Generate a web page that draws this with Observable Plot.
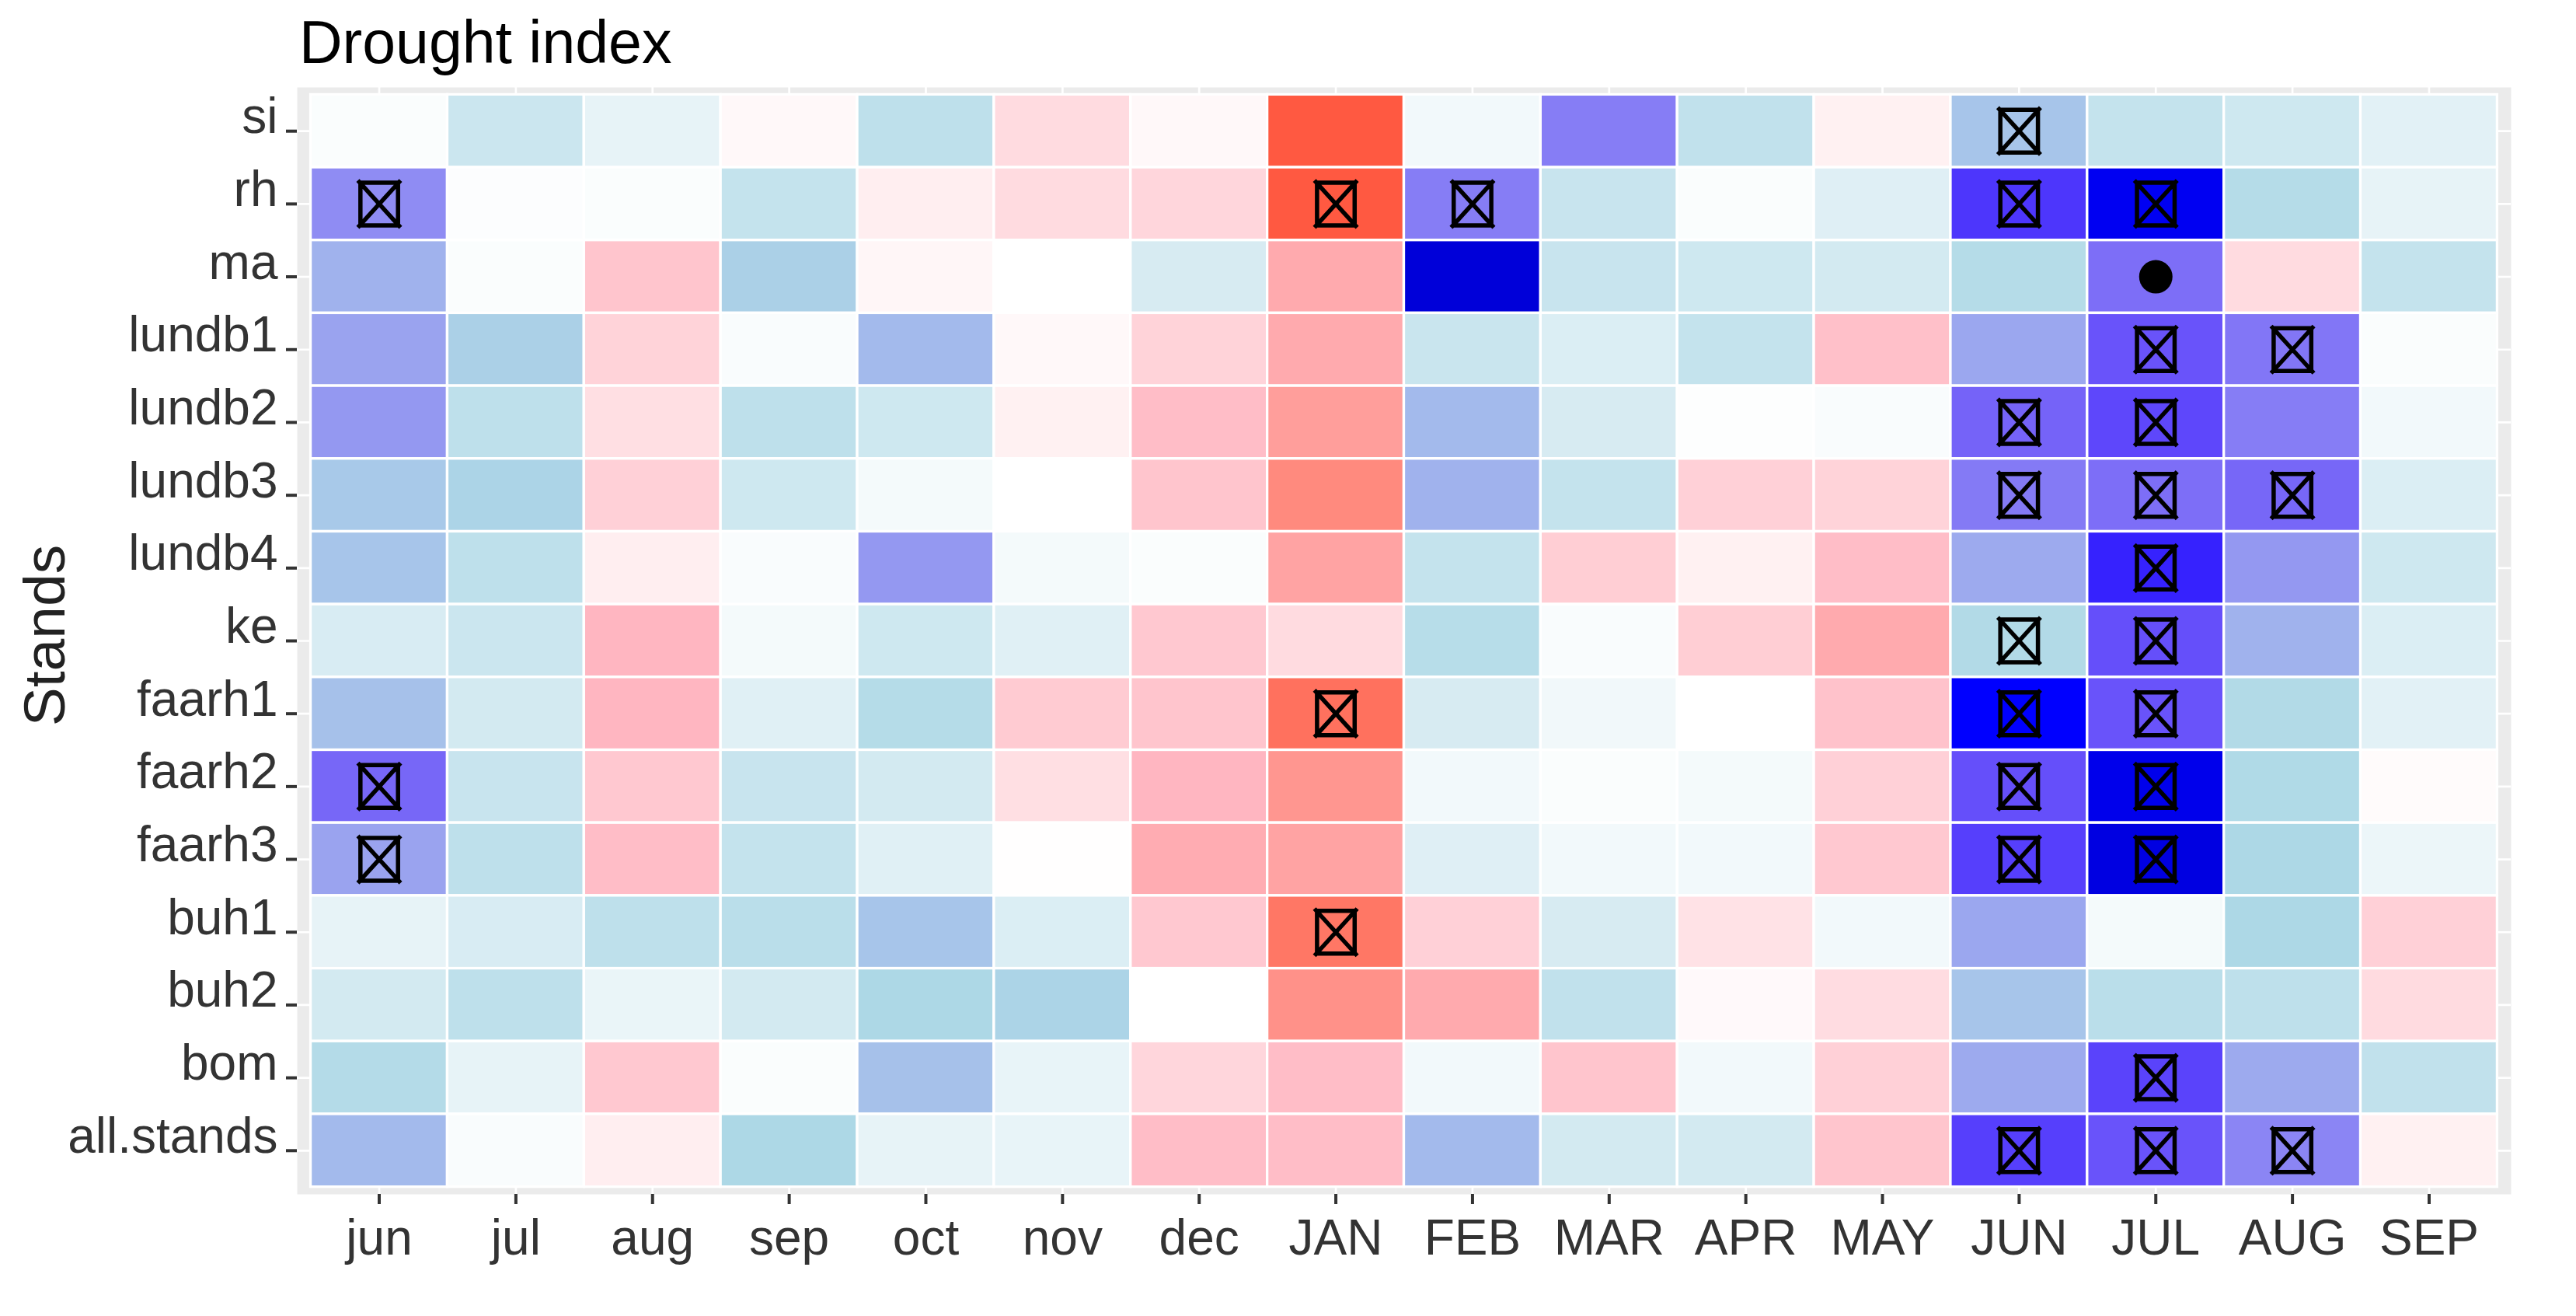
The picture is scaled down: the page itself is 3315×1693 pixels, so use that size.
<!DOCTYPE html>
<html>
<head>
<meta charset="utf-8">
<script src="https://cdn.jsdelivr.net/npm/d3@7"></script>
<script src="https://cdn.jsdelivr.net/npm/@observablehq/plot@0.6"></script>
<style>
  body { margin: 0; background: #fff; }
  #title {
    height: 100px; box-sizing: border-box; padding: 16px 0 0 385px;
    font: 77px/77px "Liberation Sans", Arial, sans-serif; color: #000; white-space: nowrap;
  }
</style>
</head>
<body>
<div id="title">Drought index</div>
<div id="chart"></div>
<script>
// ---- data ----
const months = ["jun","jul","aug","sep","oct","nov","dec","JAN","FEB","MAR","APR","MAY","JUN","JUL","AUG","SEP"];
const stands = ["si","rh","ma","lundb1","lundb2","lundb3","lundb4","ke","faarh1","faarh2","faarh3","buh1","buh2","bom","all.stands"];

// drought index response per stand (rows) and month (columns)
const values = [
  [0.03,0.32,0.15,-0.05,0.40,-0.25,-0.05,-0.85,0.08,0.74,0.38,-0.10,0.55,0.36,0.30,0.18],
  [0.70,0.02,0.03,0.36,-0.12,-0.25,-0.28,-0.85,0.74,0.34,0.03,0.20,0.92,1.05,0.45,0.15],
  [0.60,0.03,-0.40,0.52,-0.06,0.00,0.25,-0.55,1.15,0.34,0.30,0.27,0.45,0.78,-0.25,0.36],
  [0.64,0.52,-0.30,0.04,0.58,-0.05,-0.30,-0.55,0.33,0.22,0.36,-0.43,0.63,0.85,0.76,0.03],
  [0.67,0.40,-0.22,0.40,0.30,-0.10,-0.45,-0.60,0.58,0.25,0.01,0.04,0.81,0.88,0.74,0.08],
  [0.54,0.51,-0.32,0.30,0.07,0.00,-0.40,-0.68,0.60,0.36,-0.32,-0.30,0.75,0.78,0.80,0.22],
  [0.55,0.40,-0.12,0.04,0.67,0.07,0.03,-0.58,0.36,-0.34,-0.10,-0.45,0.62,0.96,0.67,0.30],
  [0.24,0.32,-0.50,0.07,0.30,0.19,-0.38,-0.25,0.44,0.04,-0.34,-0.55,0.47,0.86,0.60,0.22],
  [0.56,0.27,-0.50,0.19,0.45,-0.36,-0.40,-0.77,0.25,0.09,0.00,-0.42,1.00,0.85,0.47,0.18],
  [0.80,0.34,-0.38,0.34,0.27,-0.22,-0.50,-0.63,0.08,0.03,0.07,-0.32,0.86,1.08,0.48,-0.03],
  [0.64,0.40,-0.45,0.36,0.19,-0.01,-0.54,-0.58,0.20,0.08,0.08,-0.38,0.90,1.12,0.50,0.12],
  [0.15,0.24,0.40,0.42,0.55,0.22,-0.38,-0.75,-0.32,0.25,-0.20,0.08,0.63,0.07,0.50,-0.32],
  [0.27,0.40,0.13,0.27,0.50,0.51,0.00,-0.65,-0.55,0.38,-0.04,-0.24,0.55,0.42,0.40,-0.25],
  [0.46,0.15,-0.38,0.03,0.56,0.14,-0.28,-0.45,0.08,-0.40,0.08,-0.32,0.62,0.89,0.62,0.38],
  [0.58,0.04,-0.12,0.50,0.15,0.14,-0.45,-0.45,0.58,0.27,0.27,-0.40,0.90,0.85,0.72,-0.10]
];

// significance: "x" = significant (boxed cross), "o" = marginal (dot), "." = none
const signif = [
  "............x...",
  "x......xx...xx..",
  ".............o..",
  ".............xx.",
  "............xx..",
  "............xxx.",
  ".............x..",
  "............xx..",
  ".......x....xx..",
  "x...........xx..",
  "x...........xx..",
  ".......x........",
  "................",
  ".............x..",
  "............xxx."
];

const colorDomain = [-1, -0.5, 0, 0.5, 1, 1.2];
const colorRange = ["#FF0000", "#FFB6C1", "#FFFFFF", "#ADD8E6", "#0000FF", "#0000CD"];

// ---- table built from the arrays ----
const cells = stands.flatMap((s, i) => months.map((m, j) => ({
  stand: s, month: m, value: values[i][j], mark: signif[i][j]
})));

// boxed cross symbol (like R pch 7)
const boxX = {
  draw(ctx, size) {
    const r = Math.sqrt(size / Math.PI);
    const w = 0.88 * r, h = r, ex = 1.0 * r, ey = 1.1 * r;
    ctx.moveTo(-w, -h); ctx.lineTo(w, -h); ctx.lineTo(w, h); ctx.lineTo(-w, h); ctx.closePath();
    ctx.moveTo(-ex, -ey); ctx.lineTo(ex, ey);
    ctx.moveTo(ex, -ey); ctx.lineTo(-ex, ey);
  }
};

const chart = Plot.plot({
  width: 3315,
  height: 1593,
  marginLeft: 382,
  marginRight: 84,
  marginTop: 12,
  marginBottom: 157,
  style: { fontFamily: "'Liberation Sans', Arial, sans-serif", background: "white", color: "#333" },
  x: { type: "band", domain: months, paddingInner: 0, paddingOuter: 0.1, round: false, label: null },
  y: { type: "band", domain: stands, paddingInner: 0, paddingOuter: 0.1, round: false, label: null },
  color: { type: "linear", domain: colorDomain, range: colorRange, interpolate: "lab", clamp: true },
  marks: [
    Plot.frame({ fill: "#EBEBEB", stroke: null }),
    Plot.gridX({ stroke: "white", strokeOpacity: 1, strokeWidth: 2.7 }),
    Plot.gridY({ stroke: "white", strokeOpacity: 1, strokeWidth: 2.7 }),
    Plot.cell(cells, { x: "month", y: "stand", fill: "value", stroke: "white", strokeWidth: 3.3 }),
    Plot.dot(cells.filter(d => d.mark === "x"), {
      x: "month", y: "stand", symbol: boxX, r: 27.5, fill: "none", stroke: "black", strokeWidth: 5.5
    }),
    Plot.dot(cells.filter(d => d.mark === "o"), {
      x: "month", y: "stand", r: 21.5, fill: "black", stroke: null
    }),
    Plot.axisX({ fill: "none", stroke: "#333", strokeWidth: 4, tickSize: 13, label: null }),
    Plot.axisX({ stroke: "none", fill: "#333", tickSize: 13, tickPadding: 19, fontSize: 64, label: null }),
    Plot.axisY({ fill: "none", stroke: "#333", strokeWidth: 4, tickSize: 14, label: null }),
    Plot.axisY({ stroke: "none", fill: "#333", tickSize: 14, tickPadding: 11, fontSize: 64, dy: -18, label: null }),
    Plot.text(["Stands"], {
      frameAnchor: "left", text: d => d, rotate: -90, dx: -300, dy: -7,
      lineAnchor: "bottom", textAnchor: "middle", fontSize: 75, fill: "#222"
    })
  ]
});
document.getElementById("chart").appendChild(chart);
</script>
</body>
</html>
